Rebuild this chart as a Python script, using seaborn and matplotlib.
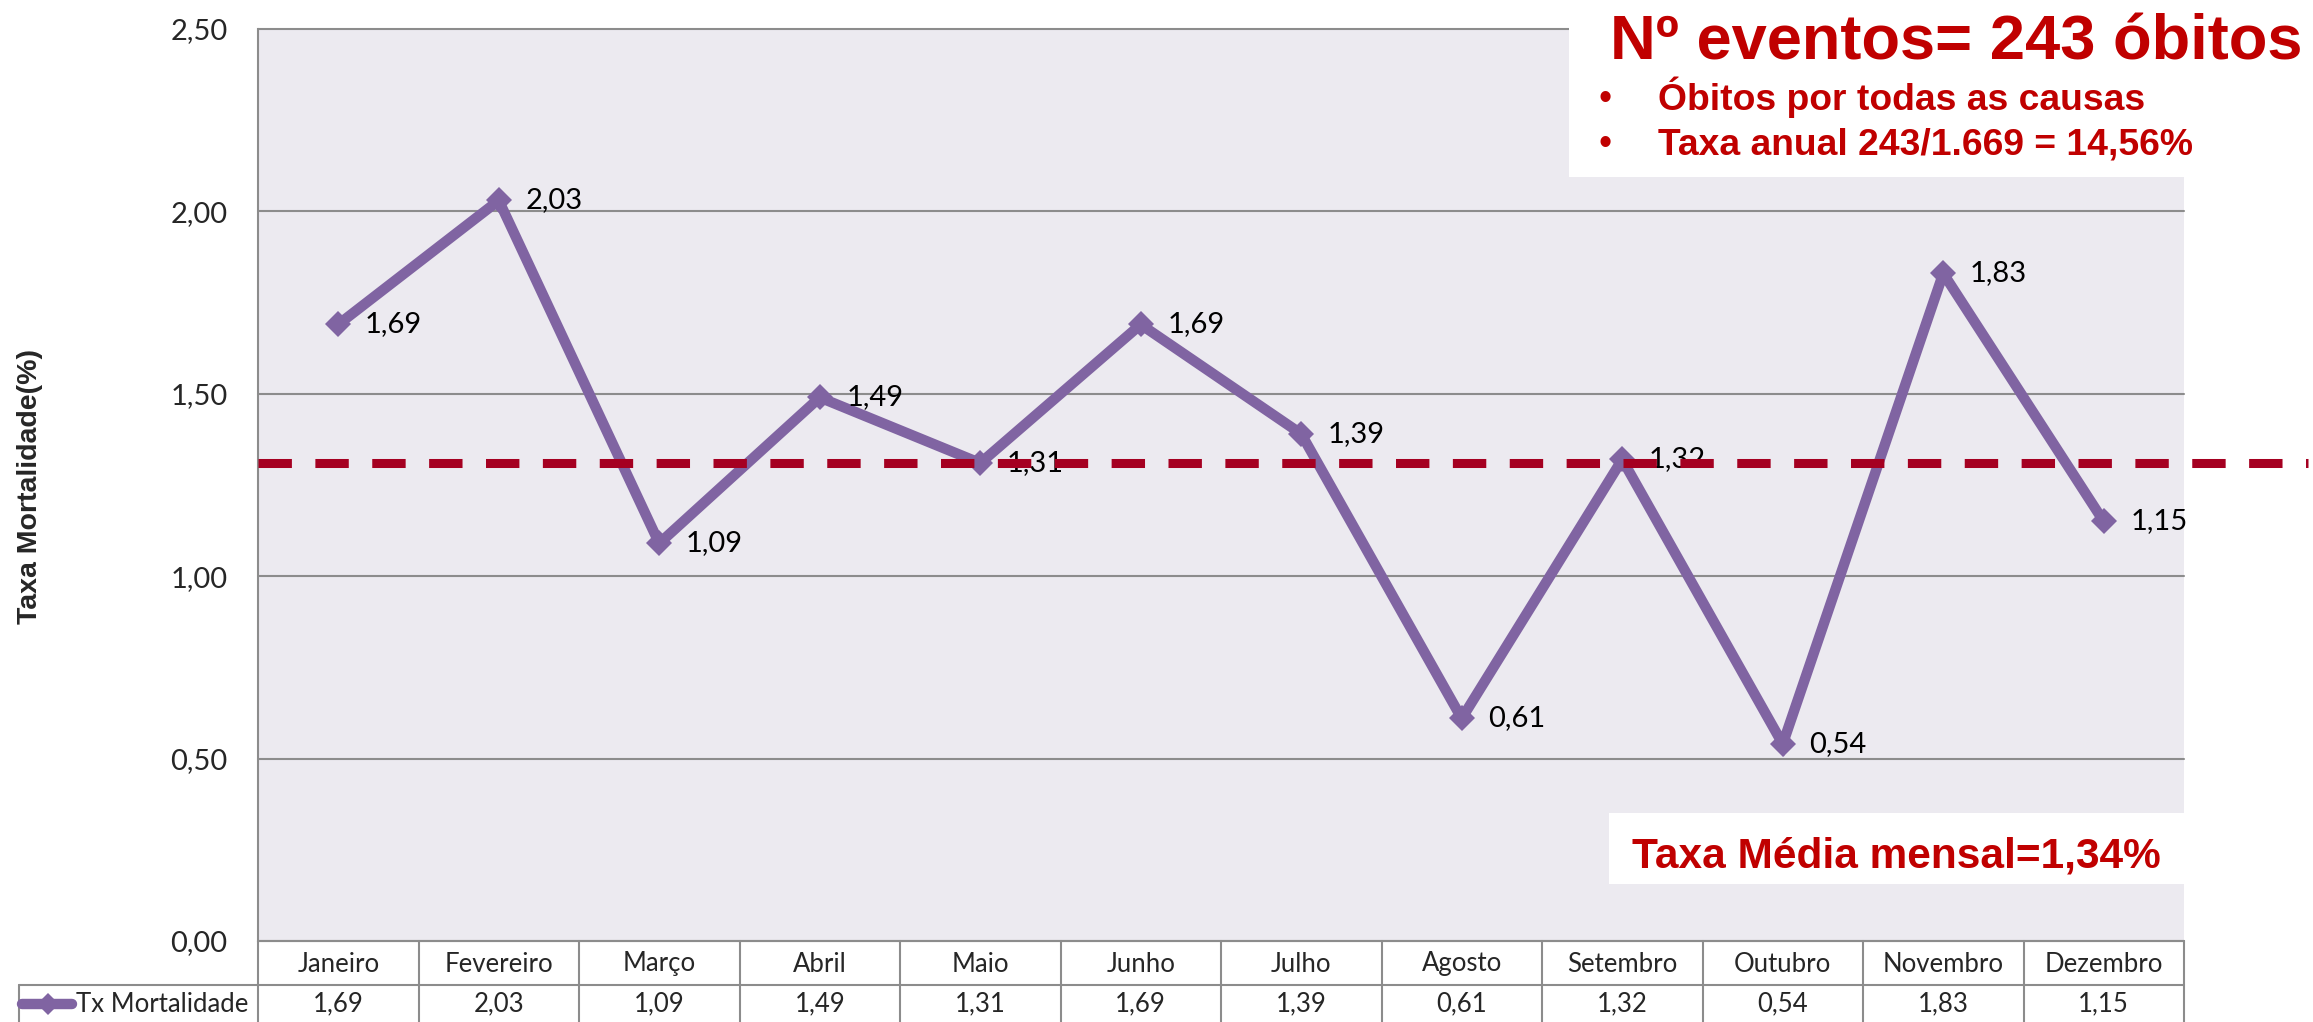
import numpy as np
import pandas as pd
import matplotlib
matplotlib.use("Agg")
import matplotlib.pyplot as plt
import matplotlib.transforms as mtransforms
from matplotlib.patches import Rectangle
from matplotlib.lines import Line2D
import seaborn as sns

# ---- data ----
months = ["Janeiro", "Fevereiro", "Março", "Abril", "Maio", "Junho",
          "Julho", "Agosto", "Setembro", "Outubro", "Novembro", "Dezembro"]
tx_mortalidade = [1.69, 2.03, 1.09, 1.49, 1.31, 1.69, 1.39, 0.61, 1.32, 0.54, 1.83, 1.15]
reference_level = 1.31
y_ticks = [0.0, 0.5, 1.0, 1.5, 2.0, 2.5]
series_name = "Tx Mortalidade"
y_title = "Taxa Mortalidade(%)"
headline = "Nº eventos= 243 óbitos"
bullets = ["Óbitos por todas as causas", "Taxa anual 243/1.669 = 14,56%"]
mean_note = "Taxa Média mensal=1,34%"

def br(v):
    return f"{v:.2f}".replace(".", ",")

df = pd.DataFrame({"pos": np.arange(len(months)), "mes": months, "taxa": tx_mortalidade})

# ---- style ----
sns.set_style("white")
plt.rcParams["font.family"] = ["Lato", "DejaVu Sans"]

PURPLE = "#8064A2"
DASH_RED = "#A50021"
TEXT_RED = "#C00000"
BG = "#ECEAF0"
GRID = "#8C8C8C"
BOLD_FONT = ["Liberation Sans", "DejaVu Sans"]

W, H = 2313, 1022
fig = plt.figure(figsize=(W / 100, H / 100), dpi=100)
fig.patch.set_facecolor("white")

L, R, T, B = 258, 2184, 29, 941
ax = fig.add_axes([L / W, 1 - B / H, (R - L) / W, (B - T) / H])
ax.set_facecolor(BG)

sns.lineplot(data=df, x="pos", y="taxa", ax=ax, color=PURPLE, linewidth=7.5,
             marker="D", markersize=13, markeredgewidth=0, zorder=3,
             solid_joinstyle="miter")

ax.set_xlim(-0.5, len(months) - 0.5)
ax.set_ylim(0, 2.5)
ax.set_yticks(y_ticks)
ax.set_yticklabels([br(v) for v in y_ticks], fontsize=21)
ax.tick_params(axis="y", length=0, pad=22)
ax.set_xticks([])
ax.set_xlabel("")
ax.set_ylabel("")

for v in y_ticks:
    ax.axhline(v, color=GRID, lw=1.5, zorder=1, clip_on=False)
for s in ["top", "right", "bottom"]:
    ax.spines[s].set_visible(False)
ax.spines["left"].set_color(GRID)
ax.spines["left"].set_linewidth(1.5)

# value labels beside each point
for i, v in enumerate(tx_mortalidade):
    ax.annotate(br(v), (i, v), xytext=(19, 0), textcoords="offset points",
                ha="left", va="center", fontsize=21, color="black", zorder=4)

# reference dashed line across the chart
ax.plot([-0.5, 12.27], [reference_level, reference_level], color=DASH_RED, lw=6.5,
        dashes=(3.7, 2.6), dash_capstyle="butt", zorder=5, clip_on=False)

# y title
fig.text(30 / W, 1 - 487 / H, y_title, rotation=90, ha="center", va="center",
         fontsize=20.5, fontweight="bold", family=BOLD_FONT)

# ---- data table under the chart ----
tr = mtransforms.blended_transform_factory(ax.transData, fig.transFigure)
fy = lambda p: 1 - p / H
row_mid = 985
tbl_left_px = 19
line_kw = dict(color=GRID, lw=1.5, clip_on=False)
# horizontal rules
fig.add_artist(Line2D([L / W, R / W], [fy(B), fy(B)], transform=fig.transFigure, **line_kw))
fig.add_artist(Line2D([tbl_left_px / W, R / W], [fy(row_mid), fy(row_mid)],
                      transform=fig.transFigure, **line_kw))
# vertical rules
for k in range(len(months) + 1):
    ax.add_line(Line2D([k - 0.5, k - 0.5], [fy(B), 0], transform=tr, **line_kw))
fig.add_artist(Line2D([tbl_left_px / W, tbl_left_px / W], [fy(row_mid), 0],
                      transform=fig.transFigure, **line_kw))

for i, (m, v) in enumerate(zip(months, tx_mortalidade)):
    ax.text(i, fy(964), m, transform=tr, ha="center", va="center", fontsize=18.5, clip_on=False)
    ax.text(i, fy(1004), br(v), transform=tr, ha="center", va="center", fontsize=18.5, clip_on=False)

# legend key inside the table
fig.add_artist(Line2D([22 / W, 72 / W], [fy(1004), fy(1004)], transform=fig.transFigure,
                      color=PURPLE, lw=7.5, solid_capstyle="round"))
fig.add_artist(Line2D([48 / W], [fy(1004)], transform=fig.transFigure, color=PURPLE,
                      marker="D", markersize=11, markeredgewidth=0, lw=0))
fig.text(76 / W, fy(1004), series_name, ha="left", va="center", fontsize=18.5)

# ---- annotation boxes ----
fig.add_artist(Rectangle((1569 / W, fy(177)), (W - 1569) / W, 177 / H,
                         transform=fig.transFigure, facecolor="white", edgecolor="none", zorder=6))
fig.text(1610 / W, fy(60), headline, ha="left", va="baseline", fontsize=45.5,
         fontweight="bold", color=TEXT_RED, family=BOLD_FONT, zorder=7)
for bl, txt in zip([110, 155], bullets):
    fig.text(1605 / W, fy(bl), "•", ha="center", va="baseline", fontsize=27,
             color=TEXT_RED, family=BOLD_FONT, zorder=7)
    fig.text(1658 / W, fy(bl), txt, ha="left", va="baseline", fontsize=26.8,
             fontweight="bold", color=TEXT_RED, family=BOLD_FONT, zorder=7)

fig.add_artist(Rectangle((1609 / W, fy(884)), (R - 1609) / W, (884 - 813) / H,
                         transform=fig.transFigure, facecolor="white", edgecolor="none", zorder=6))
fig.text(1632 / W, fy(867), mean_note, ha="left", va="baseline", fontsize=30.5,
         fontweight="bold", color=TEXT_RED, family=BOLD_FONT, zorder=7)

fig.savefig("out.png", dpi=100, facecolor="white")
